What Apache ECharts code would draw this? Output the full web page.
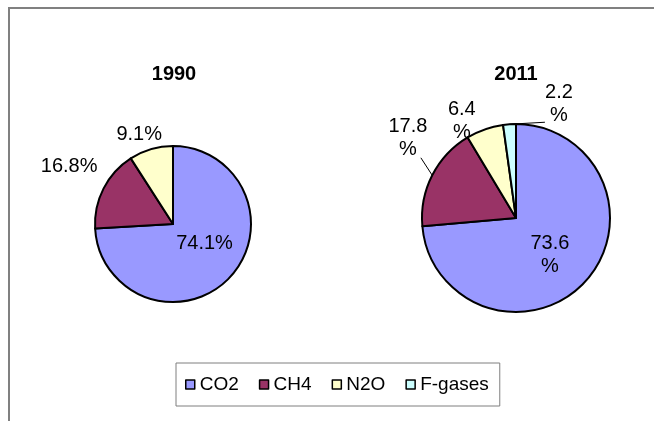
<!DOCTYPE html>
<html>
<head>
<meta charset="utf-8">
<title>Greenhouse gas emissions by gas, 1990 and 2011</title>
<script src="https://cdn.jsdelivr.net/npm/echarts@6/dist/echarts.min.js"></script>
<style>
  html, body { margin: 0; padding: 0; background: #fff; }
  #chart { width: 654px; height: 421px; }
</style>
</head>
<body>
<div id="chart"></div>
<script>
// Shares of total emissions (%) per gas
const gases = ['CO2', 'CH4', 'N2O', 'F-gases'];
const years = ['1990', '2011'];
const share1990 = [74.1, 16.8, 9.1];
const share2011 = [73.6, 17.8, 6.4, 2.2];

const gasColors = ['#9999FF', '#993366', '#FFFFCC', '#CCFFFF'];
const FONT = '"Liberation Sans", Arial, sans-serif';

// Label nudges [dx, dy] from ECharts' default label spot, per slice
const nudge1990 = [[1, -9], [-1, -22], [16, -15]];
const nudge2011 = [[-3, 3], [9, -33], [-4, -8], [69, -10]];
// Leader-line end relative to the label centre (null = no leader line)
const leader1990 = [null, null, null];
const leader2011 = [null, [13, 20], null, [-14, 18]];

function placeLabel(nudges, leaders) {
  return function (p) {
    const s = nudges[p.dataIndex] || [0, 0];
    const r = p.labelRect;
    const x = r.x + r.width / 2 + s[0];
    const y = r.y + r.height / 2 + s[1];
    const out = { x: x, y: y, align: 'center', verticalAlign: 'middle' };
    const end = leaders[p.dataIndex];
    if (end && p.labelLinePoints) {
      out.labelLinePoints = [p.labelLinePoints[0], [x + end[0], y + end[1]]];
    }
    return out;
  };
}

function sliceData(values, leaders) {
  return values.map(function (v, i) {
    const item = {
      name: gases[i],
      value: v,
      itemStyle: { color: gasColors[i] },
      label: { position: i === 0 ? 'inside' : 'outside' }
    };
    if (leaders[i]) {
      item.labelLine = { show: true, length: 10, length2: 0 };
    }
    return item;
  });
}

function pieSeries(name, values, center, radius, sep, nudges, leaders) {
  return {
    type: 'pie',
    name: name,
    center: center,
    radius: radius,
    startAngle: 90,
    clockwise: true,
    avoidLabelOverlap: false,
    silent: true,
    emphasis: { disabled: true },
    itemStyle: { borderColor: '#000', borderWidth: 2 },
    label: {
      show: true,
      position: 'outside',
      color: '#000',
      fontFamily: FONT,
      fontSize: 20,
      lineHeight: 23,
      overflow: 'none',
      formatter: function (p) { return p.value.toFixed(1) + sep + '%'; }
    },
    labelLine: {
      show: false,
      length: 0,
      length2: 0,
      lineStyle: { color: '#000', width: 1 }
    },
    labelLayout: placeLabel(nudges, leaders),
    data: sliceData(values, leaders)
  };
}

const chart = echarts.init(document.getElementById('chart'), null, { renderer: 'canvas' });

const titleText = { fontFamily: FONT, fontSize: 20, fontWeight: 'bold', color: '#000' };

chart.setOption({
  animation: false,
  backgroundColor: '#fff',
  title: [
    { text: years[0], left: 174, top: 64, padding: 0, textAlign: 'center', textStyle: titleText },
    { text: years[1], left: 516, top: 64, padding: 0, textAlign: 'center', textStyle: titleText }
  ],
  legend: {
    data: gases,
    orient: 'horizontal',
    left: 176,
    top: 363,
    padding: [12, 11, 12, 9],
    itemGap: 20,
    itemWidth: 9,
    itemHeight: 9,
    icon: 'rect',
    borderColor: '#7f7f7f',
    borderWidth: 1,
    selectedMode: false,
    itemStyle: { borderColor: '#000', borderWidth: 1.5 },
    textStyle: { fontFamily: FONT, fontSize: 19, color: '#000' }
  },
  graphic: [
    {
      type: 'rect',
      silent: true,
      shape: { x: 9, y: 8, width: 700, height: 500 },
      style: { fill: 'none', stroke: '#808080', lineWidth: 2 }
    }
  ],
  series: [
    pieSeries(years[0], share1990, [173, 224], 78, '', nudge1990, leader1990),
    pieSeries(years[1], share2011, [516, 218], 94, '\n', nudge2011, leader2011)
  ]
});
</script>
</body>
</html>
